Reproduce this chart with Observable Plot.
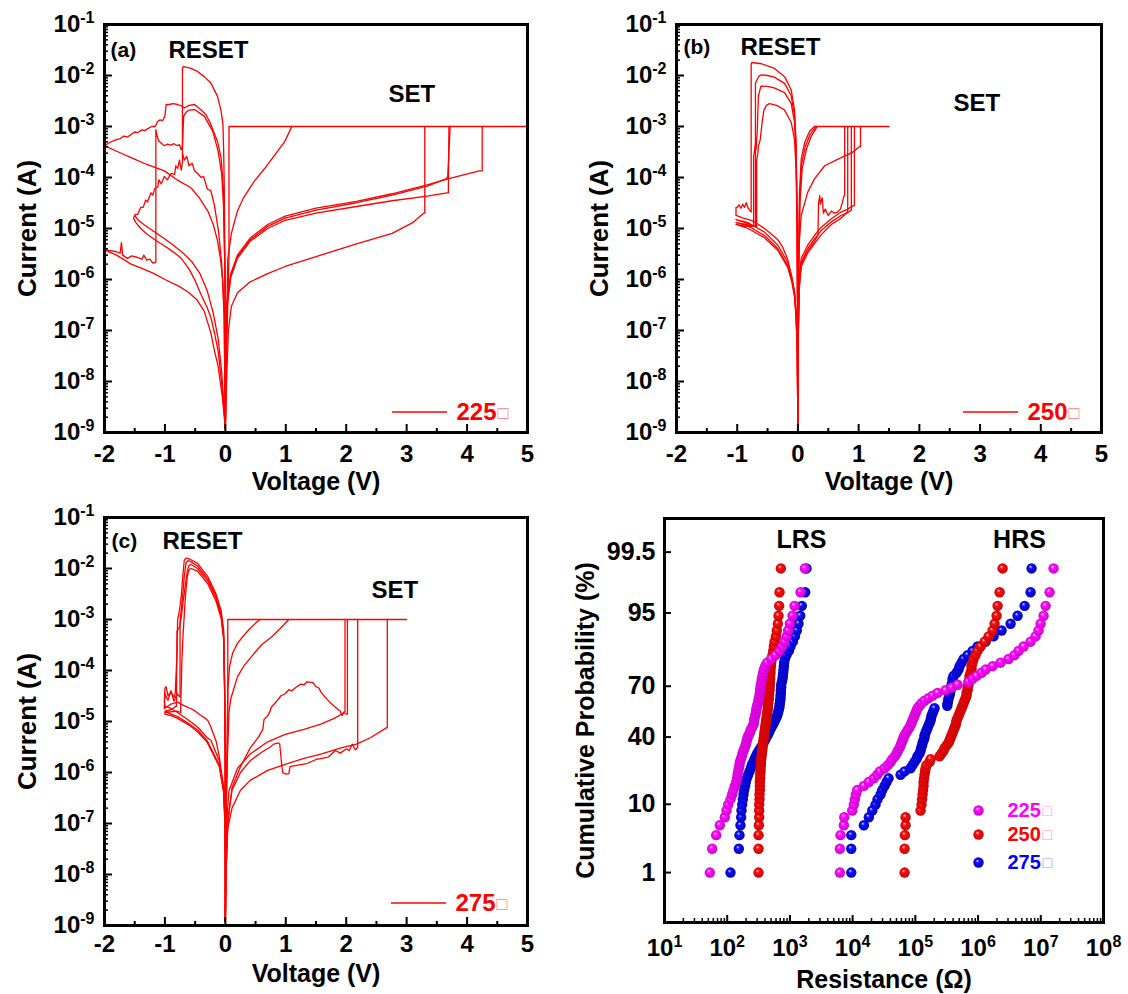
<!DOCTYPE html>
<html><head><meta charset="utf-8">
<script src="https://cdn.jsdelivr.net/npm/d3@7"></script>
<script src="https://cdn.jsdelivr.net/npm/@observablehq/plot@0.6"></script>
<style>
body{margin:0;background:#fff;}
#wrap{position:relative;width:1128px;height:994px;background:#fff;}
.panel{position:absolute;}
</style></head><body><div id="wrap"></div>
<script>
// ================= DATA =================
// ---- Panel (a) 225 : I-V sweeps, [voltage V, current A] ----
const a_reset1 = [[0,1.2e-9],[-0.005,1e-6],[-0.017,5.5e-5],[-0.028,3.3e-4],[-0.04,1.1e-3],[-0.07,2e-3],[-0.13,3.9e-3],[-0.24,7.1e-3],[-0.35,9.5e-3],[-0.46,1.2e-2],[-0.58,1.4e-2],[-0.69,1.5e-2],[-0.71,1.45e-2],[-0.71,2e-4],[-0.73,1.4e-4],[-0.76,2.2e-4],[-0.79,1.5e-4],[-0.82,1.7e-4],[-0.84,1.15e-4],[-0.9,1.2e-4],[-0.96,9e-5],[-1.01,1.05e-4],[-1.06,7.5e-5],[-1.1,9e-5],[-1.12,6.5e-5],[-1.17,6e-5],[-1.2,4.5e-5],[-1.23,5e-5],[-1.29,3.3e-5],[-1.32,3.6e-5],[-1.36,2.6e-5],[-1.4,2.6e-5],[-1.45,1.9e-5],[-1.49,1.9e-5],[-1.52,1.6e-5],[-1.48,1.3e-5],[-1.4,1.0e-5],[-1.29,7.6e-6],[-1.15,5.8e-6],[-1.01,4.6e-6],[-0.85,3.4e-6],[-0.73,2.6e-6],[-0.6,1.6e-6],[-0.5,9.5e-7],[-0.41,5.3e-7],[-0.3,2.8e-7],[-0.24,1.8e-7],[-0.18,9e-8],[-0.12,4e-8],[-0.06,9e-9],[-0.02,2.5e-9],[0,1.2e-9]];
const a_reset2 = [[0,1.2e-9],[-0.005,1e-6],[-0.03,5.5e-5],[-0.07,2.4e-4],[-0.13,5.1e-4],[-0.24,1.1e-3],[-0.32,1.7e-3],[-0.4,2.1e-3],[-0.51,2.7e-3],[-0.6,2.6e-3],[-0.68,2.3e-3],[-0.72,2.5e-3],[-0.79,2.7e-3],[-0.86,2.8e-3],[-0.93,2.7e-3],[-0.98,2.7e-3],[-1.0,1.6e-3],[-1.04,1.3e-3],[-1.08,1.35e-3],[-1.12,1.25e-3],[-1.16,1.0e-3],[-1.22,1.0e-3],[-1.29,9e-4],[-1.33,8.3e-4],[-1.38,8.6e-4],[-1.45,7.6e-4],[-1.5,7.8e-4],[-1.56,7e-4],[-1.62,6.2e-4],[-1.68,6.5e-4],[-1.74,5.8e-4],[-1.8,5.5e-4],[-1.86,5.2e-4],[-1.92,4.8e-4],[-2.0,4.2e-4]];
const a_hrs1 = [[-2.0,4.2e-4],[-1.78,3.2e-4],[-1.56,2.45e-4],[-1.3,1.8e-4],[-1.01,1.35e-4],[-0.8,9e-5],[-0.57,6.3e-5],[-0.43,4e-5],[-0.29,2.2e-5],[-0.2,1.2e-5],[-0.13,5.8e-6],[-0.08,2.5e-6],[-0.04,8.7e-7],[-0.02,2e-7],[0,1.2e-9]];
const a_reset3 = [[0,1.2e-9],[-0.005,1e-6],[-0.03,2.6e-5],[-0.06,1.15e-4],[-0.12,3.3e-4],[-0.21,8.1e-4],[-0.35,1.6e-3],[-0.51,2.15e-3],[-0.6,2.1e-3],[-0.65,1.9e-3],[-0.69,1.6e-3],[-0.71,4e-4],[-0.73,3.5e-4],[-0.76,4.4e-4],[-0.79,4.2e-4],[-0.85,4.6e-4],[-0.9,4.3e-4],[-0.96,4.5e-4],[-1.01,4.2e-4],[-1.06,4.7e-4],[-1.1,5.2e-4],[-1.13,6.5e-4],[-1.15,8.7e-4],[-1.15,2.2e-6],[-1.2,2.1e-6],[-1.25,2.5e-6],[-1.3,2.4e-6],[-1.35,3.0e-6],[-1.38,2.5e-6],[-1.45,2.7e-6],[-1.55,2.9e-6],[-1.62,2.6e-6],[-1.7,3.0e-6],[-1.72,5.3e-6],[-1.74,3.3e-6],[-1.8,3.5e-6],[-1.9,3.7e-6],[-2.0,3.8e-6]];
const a_hrs2 = [[-2.0,3.8e-6],[-1.8,3.0e-6],[-1.56,2.0e-6],[-1.35,1.6e-6],[-1.18,1.3e-6],[-1.0,1e-6],[-0.77,7.4e-7],[-0.6,5.5e-7],[-0.47,4e-7],[-0.35,2.4e-7],[-0.24,9e-8],[-0.18,4e-8],[-0.12,2e-8],[-0.05,5e-9],[0,1.2e-9]];
const a_reset4 = [[-0.71,3e-4],[-0.68,2.2e-4],[-0.64,2.6e-4],[-0.6,1.7e-4],[-0.55,1.9e-4],[-0.51,1.35e-4],[-0.46,1.2e-4],[-0.4,1e-4],[-0.36,1.05e-4],[-0.3,6e-5],[-0.24,5.5e-5],[-0.18,2.8e-5],[-0.11,8.3e-6],[-0.06,2e-6],[-0.02,2e-7],[0,1.2e-9]];
const a_reset5 = [[-1.5,1.8e-5],[-1.45,1.5e-5],[-1.35,1.2e-5],[-1.2,9e-6],[-1.0,6.2e-6],[-0.85,4.6e-6],[-0.7,3.3e-6],[-0.55,2.2e-6],[-0.42,1.3e-6],[-0.3,6e-7],[-0.2,2.2e-7],[-0.12,7e-8],[-0.06,1.5e-8],[-0.02,3e-9],[0,1.2e-9]];
const a_set0 = [[0,1.2e-9],[0.01,1e-8],[0.03,1e-7],[0.05,1e-6],[0.06,3e-6],[0.06,1e-3],[5,1e-3]];
const a_set1 = [[0,1.2e-9],[0.02,1e-7],[0.04,2.5e-6],[0.1,8e-6],[0.2,2.2e-5],[0.3,4e-5],[0.48,8.5e-5],[0.65,1.5e-4],[0.8,2.6e-4],[0.98,5e-4],[1.1,1e-3]];
const a_set2 = [[0,1.2e-9],[0.01,1e-7],[0.03,4e-7],[0.09,1.3e-6],[0.2,3e-6],[0.41,6.5e-6],[0.7,1.2e-5],[0.99,1.75e-5],[1.5,2.5e-5],[2.17,3.4e-5],[2.76,4.8e-5],[3.34,7.2e-5],[3.7,9.5e-5],[4.2,1.35e-4],[4.25,1.35e-4],[4.25,1e-3]];
const a_set3 = [[0,1.2e-9],[0.01,9e-8],[0.03,3.6e-7],[0.09,1.2e-6],[0.2,2.8e-6],[0.41,6e-6],[0.7,1.1e-5],[0.99,1.6e-5],[1.5,2.3e-5],[2.17,3.2e-5],[2.76,4.5e-5],[3.34,6.8e-5],[3.66,9.5e-5],[3.68,1.05e-4],[3.72,1e-3]];
const a_set4 = [[0,1.2e-9],[0.01,8e-8],[0.03,3e-7],[0.09,1.1e-6],[0.2,2.6e-6],[0.41,5.6e-6],[0.7,1e-5],[0.99,1.45e-5],[1.5,2e-5],[2.17,2.7e-5],[2.76,3.5e-5],[3.34,4.3e-5],[3.67,5e-5],[3.69,5e-5],[3.7,1e-3]];
const a_set5 = [[0,1.2e-9],[0.02,1e-8],[0.05,1e-7],[0.1,3e-7],[0.2,5.5e-7],[0.41,9e-7],[0.7,1.3e-6],[0.99,1.8e-6],[1.58,3e-6],[2.17,5e-6],[2.76,8e-6],[3.1,1.3e-5],[3.28,2e-5],[3.3,2e-5],[3.3,1e-3]];

// ---- Panel (b) 250 ----
const b_reset1 = [[0,1.2e-9],[-0.002,3e-8],[-0.012,1.3e-5],[-0.03,4.8e-4],[-0.056,2.1e-3],[-0.11,5.2e-3],[-0.22,9.5e-3],[-0.39,1.38e-2],[-0.6,1.7e-2],[-0.76,1.8e-2],[-0.77,1.7e-2],[-0.77,2.1e-5],[-0.82,2.5e-5],[-0.85,3.2e-5],[-0.88,2.6e-5],[-0.91,3e-5],[-0.94,2.5e-5],[-0.97,2.9e-5],[-1.0,2.6e-5],[-1.02,2.6e-5],[-1.02,1.8e-5],[-0.9,1.6e-5],[-0.77,1.45e-5],[-0.65,1.2e-5],[-0.55,1.0e-5],[-0.45,8e-6],[-0.33,6e-6],[-0.25,4.3e-6],[-0.17,2.5e-6],[-0.1,1.1e-6],[-0.056,5.5e-7],[-0.03,2e-7],[-0.012,5e-8],[0,1.2e-9]];
const b_reset2 = [[0,1.2e-9],[-0.002,2.5e-8],[-0.012,1.1e-5],[-0.03,3.8e-4],[-0.056,1.6e-3],[-0.11,4e-3],[-0.22,7e-3],[-0.39,9.3e-3],[-0.5,1.0e-2],[-0.6,1.03e-2],[-0.64,9.8e-3],[-0.68,8e-3],[-0.7,7e-3],[-0.7,1.1e-5],[-0.82,1.25e-5],[-1.02,1.5e-5],[-0.82,1.3e-5],[-0.55,8.5e-6],[-0.33,4.7e-6],[-0.17,2.2e-6],[-0.1,1.1e-6],[-0.056,5.8e-7],[-0.03,2.2e-7],[-0.012,5e-8],[0,1.2e-9]];
const b_reset3 = [[0,1.2e-9],[-0.002,2e-8],[-0.012,9e-6],[-0.03,3e-4],[-0.056,1.2e-3],[-0.11,2.8e-3],[-0.22,4.6e-3],[-0.39,5.7e-3],[-0.5,6.1e-3],[-0.61,6.2e-3],[-0.63,5e-3],[-0.65,4e-3],[-0.66,2e-3],[-0.67,8e-4],[-0.68,5.6e-4],[-0.69,3.5e-4],[-0.7,4.5e-4],[-0.72,3e-4],[-0.73,2.5e-4],[-0.73,1.1e-5],[-0.85,1.2e-5],[-1.02,1.3e-5],[-0.82,1.12e-5],[-0.55,7.3e-6],[-0.33,4e-6],[-0.17,1.9e-6],[-0.1,9.5e-7],[-0.056,5e-7],[-0.03,2e-7],[-0.012,4.5e-8],[0,1.2e-9]];
const b_reset4 = [[0,1.2e-9],[-0.002,1.8e-8],[-0.012,7e-6],[-0.03,1.4e-4],[-0.056,5.5e-4],[-0.11,1.2e-3],[-0.22,2.1e-3],[-0.35,2.6e-3],[-0.47,2.8e-3],[-0.52,2.6e-3],[-0.56,2.1e-3],[-0.59,1.2e-3],[-0.62,5.6e-4],[-0.64,4.5e-4],[-0.65,4.2e-4],[-0.66,3e-4],[-0.68,2.2e-4],[-0.68,1.1e-5],[-0.85,1.1e-5],[-1.02,1.2e-5],[-0.82,1e-5],[-0.55,6.6e-6],[-0.33,3.7e-6],[-0.17,1.75e-6],[-0.1,9e-7],[-0.056,4.5e-7],[-0.03,1.8e-7],[-0.012,4e-8],[0,1.2e-9]];
const b_lrs1 = [[0,1.2e-9],[0.002,1e-7],[0.01,3e-6],[0.026,5e-5],[0.054,2.3e-4],[0.11,4.8e-4],[0.19,8e-4],[0.27,1e-3],[1.5,1e-3]];
const b_lrs2 = [[0,1.2e-9],[0.002,8e-8],[0.01,2e-6],[0.03,4e-5],[0.06,1.8e-4],[0.12,4e-4],[0.2,7e-4],[0.3,1e-3]];
const b_lrs3 = [[0,1.2e-9],[0.002,6e-8],[0.012,1.5e-6],[0.035,3.3e-5],[0.07,1.5e-4],[0.14,3.6e-4],[0.22,6.5e-4],[0.32,1e-3]];
const b_set1 = [[0,1.2e-9],[0.003,1e-7],[0.02,5e-6],[0.054,1.8e-5],[0.16,5.1e-5],[0.27,9.3e-5],[0.44,1.7e-4],[0.66,2.3e-4],[0.82,2.8e-4],[0.93,3.3e-4],[1.01,4e-4],[1.03,4e-4],[1.03,1e-3]];
const b_set2 = [[0,1.2e-9],[0.005,1e-7],[0.02,1e-6],[0.054,2.6e-6],[0.16,4.7e-6],[0.27,7.2e-6],[0.38,1.05e-5],[0.55,1.55e-5],[0.71,2.1e-5],[0.82,2.4e-5],[0.91,2.8e-5],[0.93,2.8e-5],[0.93,1e-3]];
const b_set3 = [[0,1.2e-9],[0.005,8e-8],[0.02,8e-7],[0.054,2.2e-6],[0.16,4e-6],[0.27,6.2e-6],[0.38,9e-6],[0.55,1.35e-5],[0.71,1.8e-5],[0.82,2.05e-5],[0.88,2.3e-5],[0.88,1e-3]];
const b_set4 = [[0,1.2e-9],[0.005,7e-8],[0.02,7e-7],[0.054,2e-6],[0.16,3.6e-6],[0.27,5.5e-6],[0.33,7.5e-6],[0.34,3.2e-5],[0.36,4.4e-5],[0.37,3e-5],[0.4,4e-5],[0.42,2e-5],[0.45,2.4e-5],[0.5,1.8e-5],[0.55,2.2e-5],[0.6,2e-5],[0.65,2.1e-5],[0.7,2.4e-5],[0.73,3.2e-5],[0.76,4.4e-5],[0.77,4.4e-5],[0.77,1e-3]];
const b_set5 = [[0,1.2e-9],[0.005,6e-8],[0.02,6e-7],[0.054,1.8e-6],[0.16,3.3e-6],[0.27,5e-6],[0.38,7.5e-6],[0.55,1.2e-5],[0.71,1.6e-5],[0.8,2e-5],[0.82,2.2e-5],[0.82,1e-3]];

// ---- Panel (c) 275 ----
const c_reset1 = [[0,1.2e-9],[-0.002,2.3e-6],[-0.011,4.8e-5],[-0.028,6.2e-4],[-0.07,1.5e-3],[-0.155,3.2e-3],[-0.29,6.9e-3],[-0.46,1.26e-2],[-0.6,1.55e-2],[-0.65,1.6e-2],[-0.68,1.45e-2],[-0.71,5.9e-3],[-0.73,2.8e-3],[-0.76,1.5e-3],[-0.79,9.8e-4],[-0.8,2.1e-4],[-0.82,6.5e-5],[-0.83,3.5e-5],[-0.85,3e-5],[-0.9,3.8e-5],[-0.95,3.2e-5],[-0.98,4.8e-5],[-1.0,4.5e-5],[-1.01,2.5e-5],[-1.0,2e-5],[-0.9,1.8e-5],[-0.79,1.5e-5],[-0.6,1.05e-5],[-0.46,7.8e-6],[-0.3,4.8e-6],[-0.24,4.3e-6],[-0.1,1.7e-6],[-0.028,5.2e-7],[-0.005,1.2e-7],[0,1.2e-9]];
const c_reset2 = [[0,1.2e-9],[-0.002,2e-6],[-0.011,4e-5],[-0.028,5e-4],[-0.07,1.3e-3],[-0.155,2.9e-3],[-0.29,6.2e-3],[-0.46,1.12e-2],[-0.58,1.38e-2],[-0.62,1.42e-2],[-0.65,1.3e-2],[-0.68,7e-3],[-0.7,3.5e-3],[-0.72,2e-3],[-0.74,1.2e-3],[-0.75,9e-4],[-0.75,3e-5],[-0.8,3.5e-5],[-0.85,2.5e-5],[-0.9,4e-5],[-0.95,2.6e-5],[-1.0,3.5e-5],[-1.01,1.8e-5],[-0.9,2.2e-5],[-0.79,2.4e-5],[-0.7,2.1e-5],[-0.62,1.9e-5],[-0.57,1.8e-5],[-0.5,1.6e-5],[-0.4,1.3e-5],[-0.33,1.15e-5],[-0.29,1.05e-5],[-0.24,7.8e-6],[-0.15,4e-6],[-0.1,2e-6],[-0.03,5e-7],[-0.005,1e-7],[0,1.2e-9]];
const c_reset3 = [[0,1.2e-9],[-0.002,1.8e-6],[-0.011,3.6e-5],[-0.028,4.5e-4],[-0.07,1.2e-3],[-0.155,2.6e-3],[-0.29,5.6e-3],[-0.46,1e-2],[-0.57,1.2e-2],[-0.6,1.15e-2],[-0.63,9e-3],[-0.66,5e-3],[-0.7,2.2e-3],[-0.73,1.1e-3],[-0.76,7e-4],[-0.8,6e-4],[-0.81,2e-5],[-0.9,1.7e-5],[-1.0,1.6e-5],[-0.9,1.4e-5],[-0.79,1.25e-5],[-0.6,9e-6],[-0.46,6.8e-6],[-0.3,4.2e-6],[-0.1,1.4e-6],[-0.028,4.4e-7],[-0.005,1e-7],[0,1.2e-9]];
const c_reset4 = [[0,1.2e-9],[-0.002,1.6e-6],[-0.011,3.2e-5],[-0.028,4e-4],[-0.07,1.05e-3],[-0.155,2.3e-3],[-0.29,5e-3],[-0.46,8.8e-3],[-0.56,1e-2],[-0.6,9.5e-3],[-0.63,7e-3],[-0.66,3e-3],[-0.68,1.2e-3],[-0.7,5e-4],[-0.72,1.5e-4],[-0.74,1.5e-5],[-0.8,1.6e-5],[-1.0,1.5e-5],[-1.0,1.4e-5],[-0.9,1.3e-5],[-0.79,1.15e-5],[-0.6,8.5e-6],[-0.46,6.3e-6],[-0.3,3.9e-6],[-0.1,1.3e-6],[-0.028,4e-7],[-0.005,9e-8],[0,1.2e-9]];
const c_set0 = [[0,1.2e-9],[0.01,1e-7],[0.03,2e-6],[0.04,1e-5],[0.04,1e-3],[3.0,1e-3]];
const c_lrs1 = [[0,1.2e-9],[0.01,1e-7],[0.03,5e-6],[0.04,4e-5],[0.07,1.2e-4],[0.12,2.2e-4],[0.2,3.4e-4],[0.3,4.8e-4],[0.4,6.5e-4],[0.5,8.5e-4],[0.57,1e-3]];
const c_lrs2 = [[0,1.2e-9],[0.01,1e-7],[0.03,1.5e-6],[0.06,1.5e-5],[0.09,2.8e-5],[0.2,7.5e-5],[0.3,1.2e-4],[0.48,2.2e-4],[0.6,3.2e-4],[0.76,4.5e-4],[0.9,6.5e-4],[1.05,1e-3]];
const c_set1 = [[0,1.2e-9],[0.01,1e-8],[0.04,1e-7],[0.11,5e-7],[0.25,1.3e-6],[0.41,3e-6],[0.55,5e-6],[0.62,7e-6],[0.64,1.1e-5],[0.7,1.3e-5],[0.74,1.6e-5],[0.76,1.9e-5],[0.85,2.5e-5],[0.92,3.2e-5],[0.99,3.5e-5],[1.05,4.2e-5],[1.1,4e-5],[1.17,4.7e-5],[1.25,5.4e-5],[1.3,5.2e-5],[1.35,6e-5],[1.45,5.8e-5],[1.5,4.8e-5],[1.55,4.5e-5],[1.58,3.8e-5],[1.65,3e-5],[1.7,2.6e-5],[1.76,2.2e-5],[1.82,1.9e-5],[1.9,1.6e-5],[1.93,1.3e-5],[1.96,1.5e-5],[2.0,1.4e-5],[2.02,1.4e-5],[2.02,1e-3]];
const c_set2 = [[0,1.2e-9],[0.01,2e-8],[0.03,1.5e-7],[0.06,4.4e-7],[0.2,1.2e-6],[0.41,2.3e-6],[0.7,4e-6],[0.99,5.6e-6],[1.3,7e-6],[1.58,8.9e-6],[1.8,1.15e-5],[1.93,1.4e-5],[1.97,1.55e-5],[1.98,1.55e-5],[1.98,1e-3]];
const c_set3 = [[0,1.2e-9],[0.01,1e-8],[0.04,8e-8],[0.11,2e-7],[0.25,4.5e-7],[0.41,7e-7],[0.7,1.1e-6],[0.99,1.45e-6],[1.3,1.9e-6],[1.58,2.3e-6],[1.9,3e-6],[2.17,3.6e-6],[2.4,4.8e-6],[2.67,7.6e-6],[2.68,7.6e-6],[2.68,1e-3]];
const c_set4 = [[0,1.2e-9],[0.01,1e-8],[0.04,1.2e-7],[0.11,4.5e-7],[0.25,1e-6],[0.41,1.7e-6],[0.6,2.5e-6],[0.75,3.2e-6],[0.8,3.6e-6],[0.88,3.8e-6],[0.9,3.6e-6],[0.93,1.5e-6],[0.95,1e-6],[1.0,9.3e-7],[1.05,9.5e-7],[1.07,1.3e-6],[1.2,1.4e-6],[1.35,1.5e-6],[1.5,1.8e-6],[1.6,1.9e-6],[1.7,2.0e-6],[1.82,2.7e-6],[1.9,2.4e-6],[2.0,2.9e-6],[2.05,2.7e-6],[2.1,3.6e-6],[2.15,2.8e-6],[2.19,3.1e-6],[2.19,1e-3]];

// ---- Panel (d): sorted resistances (ohm), one value per cumulative rank ----
const lrs225 = [52.8,57.5,66.7,76.2,91.6,97.4,103.6,112.8,119.9,125.9,132.3,139.0,144.2,146.0,149.6,153.2,157.0,158.9,164.9,171.0,175.4,181.9,188.8,195.9,200.7,205.6,210.7,218.6,229.6,235.2,247.0,259.4,265.9,269.2,272.5,279.3,286.2,289.7,293.3,300.6,307.9,315.6,319.4,327.4,331.4,335.4,339.5,343.7,352.2,356.6,365.4,374.5,383.7,402.9,433.5,502.0,588.6,682.4,751.8,819.6,882.4,937.7,997,1100,1183,1475,1730];
const lrs250 = [315.6,315.6,315.6,319.4,323.4,323.4,323.4,327.4,327.4,331.4,331.4,331.4,335.4,335.4,339.5,339.5,343.7,343.7,348.0,352.2,356.6,361.0,365.4,369.9,374.5,379.1,383.7,388.4,393.2,398.1,402.9,407.9,412.9,418.0,423.1,428.4,433.5,438.9,444.3,444.3,449.8,455.3,460.9,460.9,466.6,472.4,472.4,478.2,478.2,484.1,484.1,490.1,490.1,496.1,502.2,514.7,527.4,540.8,554.0,568.2,596.9,619.0,641.9,657.4,673.7,682.4,716.8];
const lrs275 = [112.8,153.2,157.0,162.8,167.0,169.0,173.3,177.6,181.9,186.4,193.3,198.1,205.6,215.9,226.6,238.0,247.0,259.4,272.5,286.2,300.6,319.4,339.5,361.0,379.1,398.1,418.0,438.9,460.9,478.2,502.2,527.4,554.0,575.0,603.9,626.8,641.9,657.4,673.7,682.4,690.6,699.6,707.9,707.9,716.8,716.8,725.4,725.4,743.0,761.7,770.9,780.2,790.0,799.8,809.3,829.8,882.4,961.6,1021,1114,1199,1289,1371,1459,1549,1750,1841];
const hrs225 = [6250,6250,6410,7240,7350,9860,10450,10840,11240,11840,15100,18130,21780,24660,27160,32280,36410,40190,42850,47100,50120,52600,55980,58070,60260,62520,64860,67300,71120,75160,79430,83760,86860,90120,93470,96940,100600,104300,108200,116600,125500,140200,162500,188100,225900,303300,377800,470900,705000,816600,946000,1137000,1317000,1704000,2284000,3064000,3820000,4426000,5317000,6875000,8256000,9220000,9930000,11090000,11940000,13810000,15990000];
const hrs250 = [67300,67300,68050,69820,69820,121100,125500,127900,130300,132700,135200,135200,137700,140200,142800,145500,150900,168400,174700,243000,261600,281600,292300,314700,338900,351000,363900,377800,391700,406400,421700,437500,445600,453900,470900,488500,506900,526000,545800,566200,587500,609500,632400,656100,656100,680800,680800,705000,705000,731100,731100,758600,787000,787000,816600,847200,912000,981700,1096000,1270000,1469000,1704000,1834000,1974000,2048000,2203000,2460000];
const hrs275 = [9506,9506,9506,15100,18130,20550,23180,24950,27860,29650,32280,34750,37410,58070,67300,83760,90120,96940,104300,108200,116600,121100,123300,127900,130300,135200,140200,140200,145500,150900,156600,162500,168600,174700,177900,181300,188100,195100,202400,322800,326600,332700,338900,351000,357500,363900,377800,377800,391700,391700,406400,453900,488500,506900,545800,587500,680800,816600,981700,1317000,1766000,2371000,3299000,4266000,5521000,6875000,7130000];

// ---- axis ticks and labels ----
const ivXTicks = [-2,-1,0,1,2,3,4,5];
const ivXMinor = [-1.5,-0.5,0.5,1.5,2.5,3.5,4.5];
const ivYTicks = [1e-9,1e-8,1e-7,1e-6,1e-5,1e-4,1e-3,1e-2,1e-1];
const rTicks = [1e1,1e2,1e3,1e4,1e5,1e6,1e7,1e8];
const probTicks = [1,10,40,70,95,99.5];
const tempLabels = ["225","250","275"];

// ================= HELPERS =================
const FONT = '"Liberation Sans", Arial, Helvetica, sans-serif';
const RED = "#ff0000";
function probit(p){ // Acklam inverse normal CDF
  const a=[-39.69683028665376,220.9460984245205,-275.9285104469687,138.3577518672690,-30.66479806614716,2.506628277459239];
  const b=[-54.47609879822406,161.5858368580409,-155.6989798598866,66.80131188771972,-13.28068155288572];
  const c=[-0.007784894002430293,-0.3223964580411365,-2.400758277161838,-2.549732539343734,4.374664141464968,2.938163982698783];
  const d=[0.007784695709041462,0.3224671290700398,2.445134137142996,3.754408661907416];
  const pl=0.02425;
  if(p<pl){const q=Math.sqrt(-2*Math.log(p));return (((((c[0]*q+c[1])*q+c[2])*q+c[3])*q+c[4])*q+c[5])/((((d[0]*q+d[1])*q+d[2])*q+d[3])*q+1);}
  if(p>1-pl){const q=Math.sqrt(-2*Math.log(1-p));return -(((((c[0]*q+c[1])*q+c[2])*q+c[3])*q+c[4])*q+c[5])/((((d[0]*q+d[1])*q+d[2])*q+d[3])*q+1);}
  const q=p-0.5,r=q*q;return (((((a[0]*r+a[1])*r+a[2])*r+a[3])*r+a[4])*r+a[5])*q/(((((b[0]*r+b[1])*r+b[2])*r+b[3])*r+b[4])*r+1);
}
function supers(svg){
  d3.select(svg).selectAll('g[aria-label$="tick label"] text').each(function(){
    const m=/^10\^(-?\d+)$/.exec(this.textContent);
    if(m){this.textContent="10";d3.select(this).append("tspan").attr("dy","-9").attr("font-size","16px").text(m[1]);}
  });
}
function place(node,left,top){
  const div=document.createElement("div");div.className="panel";div.style.left=left+"px";div.style.top=top+"px";
  div.appendChild(node);document.getElementById("wrap").appendChild(div);
}
const baseStyle={fontFamily:FONT,fontSize:"24px",fontWeight:"bold",color:"black",background:"transparent",overflow:"visible"};
const yMinor = ivYTicks.slice(0,-1).flatMap(d=>[2,3,4,5,6,7,8,9].map(m=>m*d));

function ivPanel(o){
  const fw=o.width-o.mL-o.mR, fh=o.height-o.mT-o.mB;
  const rows=o.paths.flatMap((p,k)=>p.map(([V,I])=>({V,I,k})));
  const txt=(s,dx,dy,extra={})=>Plot.text([s],{text:d=>d,frameAnchor:"top-left",dx,dy,textAnchor:"start",lineAnchor:"middle",fontSize:24,fontWeight:"bold",fill:"black",...extra});
  const svg=Plot.plot({
    width:o.width,height:o.height,marginLeft:o.mL,marginRight:o.mR,marginTop:o.mT,marginBottom:o.mB,
    style:baseStyle,
    x:{domain:[-2,5]},
    y:{type:"log",domain:[1e-9,1e-1]},
    marks:[
      Plot.line(rows,{x:"V",y:"I",z:"k",stroke:RED,strokeWidth:1.3,clip:true}),
      Plot.tickX(ivXTicks,{x:d=>d,insetTop:fh-8,stroke:"black",strokeWidth:2}),
      Plot.tickX(ivXMinor,{x:d=>d,insetTop:fh-4,stroke:"black",strokeWidth:2}),
      Plot.tickY(ivYTicks,{y:d=>d,insetRight:fw-8,stroke:"black",strokeWidth:2}),
      Plot.tickY(yMinor,{y:d=>d,insetRight:fw-4,stroke:"black",strokeWidth:1.5}),
      Plot.axisX(ivXTicks,{tickSize:0,tickPadding:o.xPad,tickFormat:d=>String(d),label:null,fontSize:24}),
      Plot.axisY(ivYTicks,{tickSize:0,tickPadding:10,tickFormat:d=>"10^"+Math.round(Math.log10(d)),label:null,fontSize:24}),
      Plot.frame({stroke:"black",strokeWidth:3}),
      txt(o.tag,o.tagPos[0],o.tagPos[1],{fontSize:21}),
      txt("RESET",o.resetPos[0],o.resetPos[1]),
      txt("SET",o.setPos[0],o.setPos[1]),
      txt(o.legend,o.legPos[0],o.legPos[1],{fill:RED}),
      txt("\u25A1",o.legPos[0]+41,o.legPos[1]+1,{fill:"#ff8080",fontWeight:"normal",fontSize:18}),
      Plot.text(["Current (A)"],{text:d=>d,frameAnchor:"left",dx:-77,rotate:-90,textAnchor:"middle",lineAnchor:"middle",fontSize:26,fontWeight:"bold",fill:"black"}),
      Plot.text(["Voltage (V)"],{text:d=>d,frameAnchor:"bottom",dy:o.xTitleDy,textAnchor:"middle",lineAnchor:"middle",fontSize:25,fontWeight:"bold",fill:"black"})
    ]
  });
  supers(svg);
  const ly=o.mT+o.legPos[1];
  d3.select(svg).append("line").attr("x1",o.mL+o.legPos[0]-64).attr("x2",o.mL+o.legPos[0]-9).attr("y1",ly).attr("y2",ly).attr("stroke",RED).attr("stroke-width",1.3);
  return svg;
}

// ================= PANELS =================
place(ivPanel({width:560,height:490,mL:104,mR:33,mT:24,mB:58,xPad:12,
  paths:[a_reset1,a_reset2,a_hrs1,a_reset3,a_hrs2,a_reset4,a_reset5,a_set0,a_set1,a_set2,a_set3,a_set4,a_set5],
  tag:"(a)",tagPos:[6,26],resetPos:[64,26],setPos:[284,70],legend:tempLabels[0],legPos:[352,388],xTitleDy:49}),0,0);
place(ivPanel({width:568,height:490,mL:116,mR:27,mT:24,mB:58,xPad:12,
  paths:[b_reset1,b_reset2,b_reset3,b_reset4,b_lrs1,b_lrs2,b_lrs3,b_set1,b_set2,b_set3,b_set4,b_set5],
  tag:"(b)",tagPos:[7,23],resetPos:[64,23],setPos:[277,79],legend:tempLabels[1],legPos:[351,388],xTitleDy:49}),560,0);
place(ivPanel({width:560,height:504,mL:104,mR:33,mT:27,mB:69,xPad:9,
  paths:[c_reset1,c_reset2,c_reset3,c_reset4,c_set0,c_lrs1,c_lrs2,c_set1,c_set2,c_set3,c_set4],
  tag:"(c)",tagPos:[7,24],resetPos:[58,24],setPos:[267,73],legend:tempLabels[2],legPos:[351,386],xTitleDy:48}),0,490);

// Panel (d)
(function(){
  const W=568,H=504,mL=104,mR=25,mT=28,mB=72;
  const cum=(arr,series,state)=>arr.map((R,i)=>({R,z:probit((1+98*i/(arr.length-1))/100),series,state}));
  const mag=cum(lrs225,"225","LRS").concat(cum(hrs225,"225","HRS"));
  const red=cum(lrs250,"250","LRS").concat(cum(hrs250,"250","HRS"));
  const blu=cum(lrs275,"275","LRS").concat(cum(hrs275,"275","HRS"));
  const zTicks=probTicks.map(p=>probit(p/100));
  const zLabel=new Map(zTicks.map((z,i)=>[z,String(probTicks[i])]));
  const fw=W-mL-mR, fh=H-mT-mB;
  const rMinor=rTicks.slice(0,-1).flatMap(d=>[2,3,4,5,6,7,8,9].map(m=>m*d));
  const txt=(s,dx,dy,extra={})=>Plot.text([s],{text:d=>d,frameAnchor:"top-left",dx,dy,textAnchor:"start",lineAnchor:"middle",fontSize:20,fontWeight:"bold",...extra});
  const dotR=5.2;
  const svg=Plot.plot({
    width:W,height:H,marginLeft:mL,marginRight:mR,marginTop:mT,marginBottom:mB,
    style:baseStyle,
    x:{type:"log",domain:[10,1e8]},
    y:{domain:[probit(0.001),probit(0.999)]},
    marks:[
      Plot.dot(blu,{x:"R",y:"z",r:dotR,fill:"url(#gBlue)"}),
      Plot.dot(red,{x:"R",y:"z",r:dotR,fill:"url(#gRed)"}),
      Plot.dot(mag,{x:"R",y:"z",r:dotR,fill:"url(#gMag)"}),
      Plot.tickX(rTicks,{x:d=>d,insetTop:fh-7,stroke:"black",strokeWidth:2}),
      Plot.tickX(rMinor,{x:d=>d,insetTop:fh-4,stroke:"black",strokeWidth:1.5}),
      Plot.tickY(zTicks,{y:d=>d,insetRight:fw-7,stroke:"black",strokeWidth:2}),
      Plot.axisX(rTicks,{tickSize:0,tickPadding:16,tickFormat:d=>"10^"+Math.round(Math.log10(d)),label:null,fontSize:24}),
      Plot.axisY(zTicks,{tickSize:0,tickPadding:9,tickFormat:d=>zLabel.get(d),label:null,fontSize:25}),
      Plot.frame({stroke:"black",strokeWidth:3}),
      Plot.text(["LRS"],{text:d=>d,frameAnchor:"top-left",dx:137,dy:21,textAnchor:"middle",fontSize:25,fontWeight:"bold",lineAnchor:"middle"}),
      Plot.text(["HRS"],{text:d=>d,frameAnchor:"top-left",dx:355,dy:21,textAnchor:"middle",fontSize:25,fontWeight:"bold",lineAnchor:"middle"}),
      Plot.dot([0],{frameAnchor:"top-left",dx:314,dy:292,r:dotR,fill:"url(#gMag)"}),
      Plot.dot([0],{frameAnchor:"top-left",dx:314,dy:316,r:dotR,fill:"url(#gRed)"}),
      Plot.dot([0],{frameAnchor:"top-left",dx:314,dy:344,r:dotR,fill:"url(#gBlue)"}),
      txt(tempLabels[0],343,292,{fill:"#ff00ff"}),
      txt(tempLabels[1],343,316,{fill:RED}),
      txt(tempLabels[2],343,344,{fill:"#0000ff"}),
      txt("\u25A1",378,292,{fill:"#ff99ff",fontWeight:"normal",fontSize:16}),
      txt("\u25A1",378,316,{fill:"#ff9999",fontWeight:"normal",fontSize:16}),
      txt("\u25A1",378,344,{fill:"#9999ff",fontWeight:"normal",fontSize:16}),
      Plot.text(["Cumulative Probability (%)"],{text:d=>d,frameAnchor:"left",dx:-79,rotate:-90,textAnchor:"middle",lineAnchor:"middle",fontSize:25,fontWeight:"bold"}),
      Plot.text(["Resistance (\u03A9)"],{text:d=>d,frameAnchor:"bottom",dy:57,textAnchor:"middle",fontSize:25,fontWeight:"bold",lineAnchor:"middle"})
    ]
  });
  supers(svg);
  const defs=d3.select(svg).insert("defs",":first-child");
  [["gMag","#ffe8ff","#ff10ff","#c800c8"],["gRed","#ffe8e8","#ff1010","#c00000"],["gBlue","#e8e8ff","#1010ff","#0000b0"]].forEach(([id,hi,mid,lo])=>{
    const g=defs.append("radialGradient").attr("id",id).attr("cx","0.5").attr("cy","0.5").attr("r","0.55").attr("fx","0.38").attr("fy","0.32");
    g.append("stop").attr("offset","0%").attr("stop-color",hi);
    g.append("stop").attr("offset","30%").attr("stop-color",mid);
    g.append("stop").attr("offset","100%").attr("stop-color",lo);
  });
  place(svg,560,490);
})();
</script></body></html>
